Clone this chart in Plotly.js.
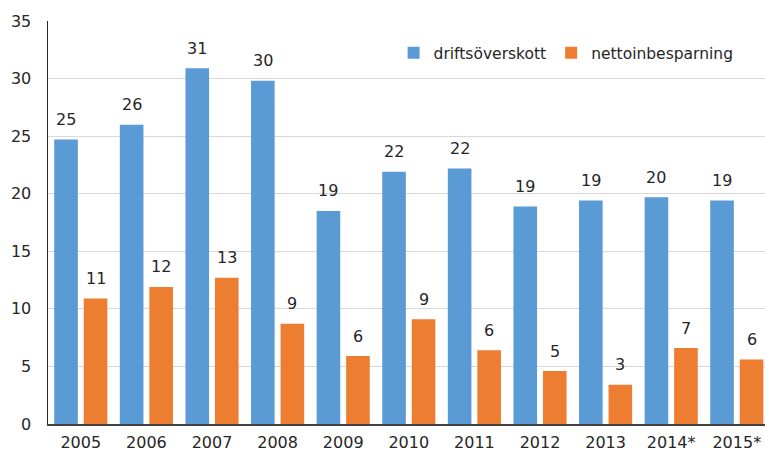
<!DOCTYPE html>
<html>
<head>
<meta charset="utf-8">
<script src="https://cdn.plot.ly/plotly-3.0.1.min.js"></script>
<style>html,body{margin:0;padding:0;background:#fff;}#chart{width:765px;height:453px;}</style>
</head>
<body>
<div id="chart"></div>
<script>
const years = ['2005','2006','2007','2008','2009','2010','2011','2012','2013','2014*','2015*'];
const driftsoverskott = [24.7, 26.0, 30.9, 29.8, 18.5, 21.9, 22.2, 18.9, 19.4, 19.7, 19.4];
const nettoinbesparning = [10.9, 11.9, 12.7, 8.7, 5.9, 9.1, 6.4, 4.6, 3.4, 6.6, 5.6];
const seriesNames = ['driftsöverskott', 'nettoinbesparning'];
const yTicks = [0, 5, 10, 15, 20, 25, 30, 35];

const FONT = 'DejaVu Sans, Arial, sans-serif';
const TXT = '#262626';
const bargap = 0.10;
const groupOffset = (1 - bargap) / 4;

const traces = [
  {type:'bar', name:seriesNames[0], x:years, y:driftsoverskott,
   marker:{color:'#5B9BD5'}, hoverinfo:'y'},
  {type:'bar', name:seriesNames[1], x:years, y:nettoinbesparning,
   marker:{color:'#ED7D31'}, hoverinfo:'y'}
];

const annotations = [];
[driftsoverskott, nettoinbesparning].forEach((arr, s) => {
  arr.forEach((v, i) => {
    annotations.push({
      x: i + (s === 0 ? -groupOffset : groupOffset), xref:'x',
      y: v, yref:'y', text: String(Math.round(v)),
      showarrow:false, yanchor:'middle', yshift:20,
      font:{family:FONT, size:16, color:TXT}
    });
  });
});

const layout = {
  width:765, height:453,
  margin:{l:48, r:0, t:21, b:29, pad:0},
  paper_bgcolor:'#fff', plot_bgcolor:'#fff',
  barmode:'group', bargap:bargap, bargroupgap:0.2,
  font:{family:FONT, size:16, color:TXT},
  showlegend:true,
  legend:{orientation:'h', x:0.482, xanchor:'left', y:0.92, yanchor:'middle',
          font:{family:FONT, size:15.5, color:TXT}, bgcolor:'rgba(0,0,0,0)', itemclick:false},
  xaxis:{type:'category', range:[-0.5, 10.43], showgrid:false, showline:true,
         linecolor:'#404040', linewidth:1.5, ticks:'', ticklabelstandoff:3,
         tickfont:{family:FONT, size:16, color:TXT}, fixedrange:true},
  yaxis:{range:[0, 35], tickvals:yTicks, ticktext:yTicks.map(String),
         showgrid:true, gridcolor:'#d9d9d9', gridwidth:1.2,
         showline:true, linecolor:'#262626', linewidth:1.5, ticks:'',
         zeroline:false, ticklabelstandoff:12,
         tickfont:{family:FONT, size:16, color:TXT}, fixedrange:true},
  annotations:annotations
};

Plotly.newPlot('chart', traces, layout, {displayModeBar:false, staticPlot:true});
</script>
</body>
</html>
